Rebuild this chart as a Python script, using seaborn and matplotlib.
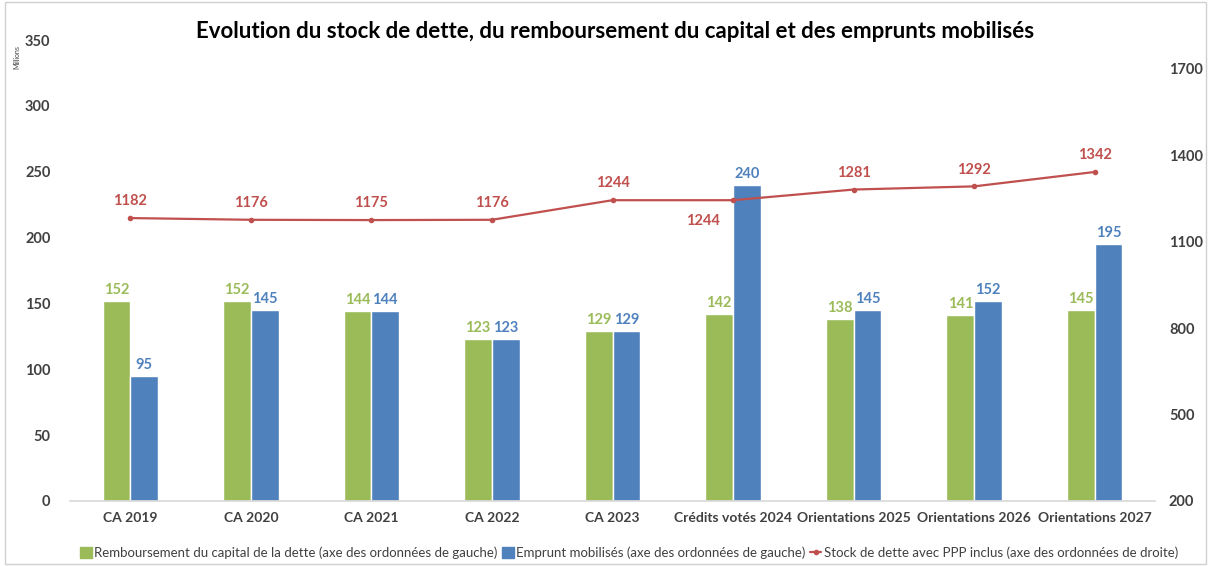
import numpy as np
import pandas as pd
import matplotlib.pyplot as plt
import seaborn as sns
from matplotlib.patches import Rectangle
from matplotlib.lines import Line2D

categories = ["CA 2019", "CA 2020", "CA 2021", "CA 2022", "CA 2023",
              "Crédits votés 2024", "Orientations 2025", "Orientations 2026", "Orientations 2027"]
remboursement = [152, 152, 144, 123, 129, 142, 138, 141, 145]
emprunts = [95, 145, 144, 123, 129, 240, 145, 152, 195]
stock = [1182, 1176, 1175, 1176, 1244, 1244, 1281, 1292, 1342]

s_remb = "Remboursement du capital de la dette (axe des ordonnées de gauche)"
s_empr = "Emprunt mobilisés (axe des ordonnées de gauche)"
s_stock = "Stock de dette avec PPP inclus (axe des ordonnées de droite)"

green = "#9BBB59"
blue = "#4F81BD"
red = "#C0504D"
grey = "#404040"

sns.set_theme(style="white")
plt.rcParams["font.family"] = ["Lato", "DejaVu Sans"]

df = pd.DataFrame({
    "cat": categories * 2,
    "val": remboursement + emprunts,
    "serie": [s_remb] * len(categories) + [s_empr] * len(categories),
})

fig = plt.figure(figsize=(12.11, 5.66), dpi=100)
ax = fig.add_axes([70 / 1211, 65 / 566, 1085 / 1211, 461 / 566])

sns.barplot(data=df, x="cat", y="val", hue="serie", palette=[green, blue],
            width=0.46, gap=0, saturation=1, ax=ax, legend=False, errorbar=None)
for cont, col in zip(ax.containers, [green, blue]):
    ax.bar_label(cont, color=col, fontsize=10.5, fontweight="bold", padding=3)

ax.set_ylim(0, 350)
ax.set_yticks(range(0, 351, 50))
ax.set_xlim(-0.5, len(categories) - 0.5)
ax.set_xlabel("")
ax.set_ylabel("")
for s in ["top", "right", "left"]:
    ax.spines[s].set_visible(False)
ax.spines["bottom"].set_color("#d9d9d9")
ax.tick_params(axis="y", length=0, pad=14, labelsize=10.5, labelcolor=grey)
ax.tick_params(axis="x", length=0, pad=8, labelsize=10, labelcolor=grey)
for t in ax.get_xticklabels() + ax.get_yticklabels():
    t.set_fontweight("bold")

ax2 = ax.twinx()
sns.lineplot(x=np.arange(len(categories)), y=stock, ax=ax2, color=red,
             marker="o", markersize=4, markeredgewidth=0, linewidth=1.6)
ax2.set_ylim(200, 1800)
ax2.set_yticks(range(200, 1701, 300))
for s in ["top", "right", "left", "bottom"]:
    ax2.spines[s].set_visible(False)
ax2.tick_params(axis="y", length=0, pad=10, labelsize=10.5, labelcolor=grey)
for t in ax2.get_yticklabels():
    t.set_fontweight("bold")
for i, v in enumerate(stock):
    if i == 5:
        ax2.annotate(str(v), (i, v), xytext=(-22, -10), textcoords="offset points",
                     ha="center", va="top", color=red, fontsize=10.5, fontweight="bold")
    else:
        ax2.annotate(str(v), (i, v), xytext=(0, 7), textcoords="offset points",
                     ha="center", va="bottom", color=red, fontsize=10.5, fontweight="bold")

fig.text(17 / 1211, 1 - 57 / 566, "Millions", rotation=90, fontsize=5, color=grey,
         ha="center", va="center")
fig.text(615 / 1211, 1 - 32 / 566, "Evolution du stock de dette, du remboursement du capital et des emprunts mobilisés",
         ha="center", va="center", fontsize=16, fontweight="bold", color="black")

handles = [Rectangle((0, 0), 1, 1, color=green),
           Rectangle((0, 0), 1, 1, color=blue),
           Line2D([0], [0], color=red, marker="o", markersize=3, linewidth=1.6)]
fig.legend(handles, [s_remb, s_empr, s_stock], loc="center left",
           bbox_to_anchor=(68 / 1211, 1 - 553 / 566), ncol=3, frameon=False,
           fontsize=9.5, handlelength=0.9, handleheight=0.9, handletextpad=0.2,
           columnspacing=0.3, labelcolor=grey)

fig.patches.append(Rectangle((0.004, 0.004), 0.992, 0.992, transform=fig.transFigure,
                             fill=False, edgecolor="#d0d0d0", linewidth=1))

fig.savefig("out.png", dpi=100)
